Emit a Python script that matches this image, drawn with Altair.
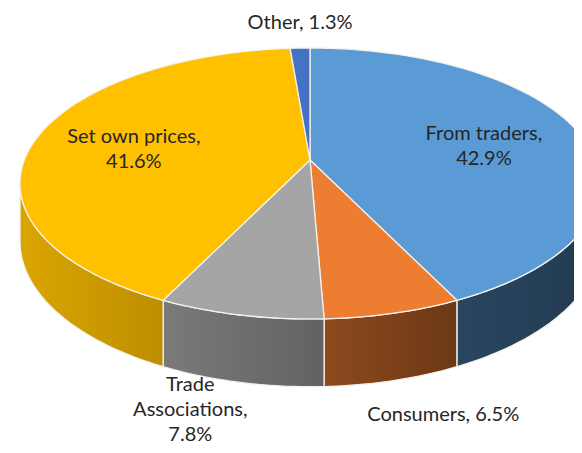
import math
import numpy as np
import pandas as pd
import altair as alt

# ---- data ----
categories = ["From traders", "Consumers", "Trade Associations", "Set own prices", "Other"]
values = [42.9, 6.5, 7.8, 41.6, 1.3]
label_names = ["From traders", "Consumers", "Trade\nAssociations", "Set own prices", "Other"]
top_colors = ["#5B9BD5", "#ED7D31", "#A5A5A5", "#FFC000", "#4472C4"]

# ---- layout of the tilted (3-D) pie, in page pixels ----
CX, CY = 310.0, 160.0      # projected pie centre
A, B = 285.6, 131.4        # horizontal / vertical radius factors
E = 0.1734                 # perspective factor
DEPTH = 56.0               # side height
X0, X1 = 8, 574
Y0, Y1 = 8, 440
TEXT_LIMIT = 445
TH_MIN = math.degrees(math.acos(-E))
TH_MAX = 360.0 - TH_MIN
FONT = 20
LINE_H = 25
NUDGE = 5


def proj(theta, k=1.0, down=0.0):
    t = math.radians(theta)
    X = k * math.sin(t)
    Z = k * math.cos(t)
    s = 1.0 / (1.0 + E * Z)
    return CX + A * X * s, CY - B * Z * s + DEPTH * down * s


def shade(hex_color, theta):
    f = float(np.interp(theta, [100, 154, 178, 205, 260], [0.38, 0.45, 0.60, 0.74, 0.86]))
    r, g, b = (int(hex_color[i:i + 2], 16) for i in (1, 3, 5))
    return "#%02x%02x%02x" % (int(r * f), int(g * f), int(b * f))


total = sum(values)
starts, ends = [], []
acc = 0.0
for v in values:
    starts.append(acc / total * 360.0)
    acc += v
    ends.append(acc / total * 360.0)

# top faces
top_rows = []
for cat, a, b in zip(categories, starts, ends):
    n = max(3, int((b - a) / 1.0) + 1)
    pts = [proj(0, 0)] + [proj(a + (b - a) * i / (n - 1)) for i in range(n)] + [proj(0, 0)]
    for i, (x, y) in enumerate(pts):
        top_rows.append({"cat": cat, "o": i, "x": x, "y": y})
top_df = pd.DataFrame(top_rows)

xs = alt.X("x:Q", scale=alt.Scale(domain=[X0, X1], nice=False, zero=False), axis=None)
ys = alt.Y("y:Q", scale=alt.Scale(domain=[Y0, Y1], reverse=True, nice=False, zero=False), axis=None)

layers = []
# visible sides
for cat, a, b, col in zip(categories, starts, ends, top_colors):
    lo, hi = max(a, TH_MIN), min(b, TH_MAX)
    if hi <= lo:
        continue
    n = max(3, int((hi - lo) / 1.0) + 1)
    angs = [lo + (hi - lo) * i / (n - 1) for i in range(n)]
    pts = [proj(t) for t in angs] + [proj(t, 1.0, 1.0) for t in reversed(angs)] + [proj(lo)]
    sdf = pd.DataFrame([{"cat": cat, "o": i, "x": x, "y": y} for i, (x, y) in enumerate(pts)])
    grad = alt.LinearGradient(
        gradient="linear",
        stops=[alt.GradientStop(color=shade(col, hi), offset=0),
               alt.GradientStop(color=shade(col, lo), offset=1)],
        x1=0, x2=1, y1=0, y2=0,
    )
    layers.append(
        alt.Chart(sdf).mark_line(fill=grad, stroke="#f4f1ea", strokeWidth=1.3,
                                 strokeJoin="round", clip=True)
        .encode(x=xs, y=ys, order="o:Q")
    )

layers.append(
    alt.Chart(top_df).mark_line(stroke="#f4f1ea", strokeWidth=1.3, strokeJoin="round", clip=True)
    .encode(
        x=xs, y=ys, order="o:Q",
        fill=alt.Fill("cat:N", scale=alt.Scale(domain=categories, range=top_colors), legend=None),
        detail="cat:N",
    )
)

# labels
lab_rows = []
for name, v, a, b in zip(label_names, values, starts, ends):
    mid = (a + b) / 2.0
    share = v / total * 100
    inside = share >= 10
    sep = "\n" if (inside or "\n" in name) else " "
    text = f"{name},{sep}{v:.1f}%"
    if inside:
        x, y = proj(mid, 0.64)
    else:
        c = math.cos(math.radians(mid))
        s = math.sin(math.radians(mid))
        x, y = proj(mid, 1.0, 1.0 if c < 0 else 0.0)
        if abs(s) > 0.1:
            x += 50 * (1 if s > 0 else -1)
        y -= 30 * c
    n_lines = text.count("\n") + 1
    y_first = y - (n_lines - 1) * LINE_H / 2 + NUDGE   # first-line position of a centred block
    y_last = y_first + (n_lines - 1) * LINE_H
    overflow = y_last + FONT / 2 - TEXT_LIMIT          # keep the block inside the page
    if overflow > 0:
        y_first -= overflow
    lab_rows.append({"x": x, "y": y_first, "label": text})
lab_df = pd.DataFrame(lab_rows)

layers.append(
    alt.Chart(lab_df).mark_text(font="Lato", fontSize=FONT, lineBreak="\n", lineHeight=LINE_H,
                                color="#262626", align="center", baseline="middle")
    .encode(x=xs, y=ys, text="label:N")
)

chart = (
    alt.layer(*layers)
    .properties(width=X1 - X0, height=Y1 - Y0, padding=0, background="white")
    .configure_view(stroke=None)
)

chart.save("out.html", embed_options={"renderer": "svg", "actions": False})
